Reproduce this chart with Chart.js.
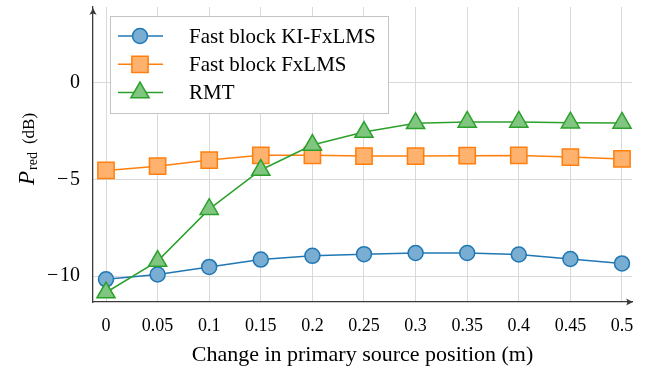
<!DOCTYPE html>
<html>
<head>
<meta charset="utf-8">
<script src="https://cdn.jsdelivr.net/npm/chart.js@4.4.0/dist/chart.umd.min.js"></script>
<style>
  html, body { margin: 0; padding: 0; background: #fff; }
  canvas { display: block; }
</style>
</head>
<body>
<canvas id="chart" width="649" height="370"></canvas>
<script>
// change in primary source position (m)
const positions = [0, 0.05, 0.1, 0.15, 0.2, 0.25, 0.3, 0.35, 0.4, 0.45, 0.5];
// P_red (dB) per method
const kiFxlms = [-10.16, -9.91, -9.52, -9.14, -8.95, -8.86, -8.80, -8.80, -8.88, -9.11, -9.34];
const fxlms = [-4.54, -4.32, -4.01, -3.76, -3.76, -3.80, -3.80, -3.78, -3.77, -3.85, -3.95];
const rmt = [-10.84, -9.22, -6.54, -4.52, -3.23, -2.56, -2.11, -2.04, -2.04, -2.08, -2.09];

const seriesNames = ['Fast block KI-FxLMS', 'Fast block FxLMS', 'RMT'];
const xTickValues = [0, 0.05, 0.1, 0.15, 0.2, 0.25, 0.3, 0.35, 0.4, 0.45, 0.5];
const xTickLabels = ['0', '0.05', '0.1', '0.15', '0.2', '0.25', '0.3', '0.35', '0.4', '0.45', '0.5'];
const yTickValues = [-10, -5, 0];
const yTickLabels = ['\u2212\u200A10', '\u2212\u200A5', '0'];

const SERIF = '"Liberation Serif", "Times New Roman", serif';
const AXIS = '#3a3a3a';
const GRID = '#d9d9d9';

function pts(values) {
    return positions.map((x, i) => ({ x: x, y: values[i] }));
}

function drawMarker(ctx, style, x, y, r) {
    if (Chart.helpers && Chart.helpers.drawPoint) {
        Chart.helpers.drawPoint(ctx, { pointStyle: style, radius: r, rotation: 0, borderWidth: 1.5 }, x, y);
        return;
    }
    ctx.beginPath();
    ctx.arc(x, y, r, 0, Math.PI * 2);
    ctx.fill();
    ctx.stroke();
}

function arrowHead(ctx, x, y, dir) {
    // small latex-ish arrow tip
    ctx.save();
    ctx.translate(x, y);
    if (dir === 'up') ctx.rotate(-Math.PI / 2);
    ctx.beginPath();
    ctx.moveTo(0, 0);
    ctx.lineTo(-7, -3.6);
    ctx.quadraticCurveTo(-4.5, 0, -7, 3.6);
    ctx.closePath();
    ctx.fill();
    ctx.restore();
}

const decorPlugin = {
    id: 'decor',
    afterDraw(chart) {
        const { ctx, chartArea: a } = chart;
        ctx.save();

        // axis arrow tips
        ctx.fillStyle = AXIS;
        arrowHead(ctx, a.right + 1, a.bottom, 'right');
        arrowHead(ctx, a.left, a.top + 1, 'up');

        // y title: P_red (dB)
        ctx.save();
        ctx.fillStyle = '#000';
        ctx.translate(34, 149);
        ctx.rotate(-Math.PI / 2);
        ctx.textBaseline = 'alphabetic';
        ctx.textAlign = 'left';
        ctx.font = 'italic 23px ' + SERIF;
        const wP = ctx.measureText('P').width + 1;
        ctx.font = '14px ' + SERIF;
        const wSub = ctx.measureText('red').width + 8;
        ctx.font = '17px ' + SERIF;
        const wRest = ctx.measureText('(dB)').width;
        const x0 = -(wP + wSub + wRest) / 2;
        ctx.font = 'italic 23px ' + SERIF;
        ctx.fillText('P', x0, 0);
        ctx.font = '14px ' + SERIF;
        ctx.fillText('red', x0 + wP, 3);
        ctx.font = '17px ' + SERIF;
        ctx.fillText('(dB)', x0 + wP + wSub, 0);
        ctx.restore();

        // legend box
        const bx = a.left + 17, by = a.top + 9, bw = 278, bh = 97;
        ctx.fillStyle = '#fff';
        ctx.fillRect(bx, by, bw, bh);
        ctx.strokeStyle = '#c4c4c4';
        ctx.lineWidth = 1;
        ctx.strokeRect(bx + 0.5, by + 0.5, bw, bh);

        chart.data.datasets.forEach((ds, i) => {
            const y = by + 20 + i * 28.3;
            ctx.strokeStyle = ds.borderColor;
            ctx.lineWidth = 1.5;
            ctx.beginPath();
            ctx.moveTo(bx + 8, y);
            ctx.lineTo(bx + 53, y);
            ctx.stroke();
            ctx.fillStyle = ds.pointBackgroundColor;
            ctx.strokeStyle = ds.borderColor;
            drawMarker(ctx, ds.pointStyle, bx + 30, y, ds.pointRadius);
            ctx.fillStyle = '#000';
            ctx.font = '21px ' + SERIF;
            ctx.textBaseline = 'middle';
            ctx.textAlign = 'left';
            ctx.fillText(seriesNames[i], bx + 79, y + 1);
        });

        ctx.restore();
    }
};

const chart = new Chart(document.getElementById('chart'), {
    type: 'line',
    data: {
        datasets: [{
            label: seriesNames[0],
            data: pts(kiFxlms),
            borderColor: '#1f77b4',
            backgroundColor: '#79add2',
            pointBackgroundColor: '#79add2',
            pointBorderColor: '#1f77b4',
            pointStyle: 'circle',
            pointRadius: 7.5,
            order: 2
        }, {
            label: seriesNames[1],
            data: pts(fxlms),
            borderColor: '#ff7f0e',
            backgroundColor: '#ffb26e',
            pointBackgroundColor: '#ffb26e',
            pointBorderColor: '#ff7f0e',
            pointStyle: 'rect',
            pointRadius: 11.5,
            order: 1
        }, {
            label: seriesNames[2],
            data: pts(rmt),
            borderColor: '#2ca02c',
            backgroundColor: '#80c680',
            pointBackgroundColor: '#80c680',
            pointBorderColor: '#2ca02c',
            pointStyle: 'triangle',
            pointRadius: 10.5,
            order: 0
        }].map(ds => Object.assign({
            borderWidth: 1.5,
            pointBorderWidth: 1.5,
            tension: 0,
            fill: false,
            clip: false
        }, ds))
    },
    options: {
        responsive: false,
        animation: false,
        layout: { autoPadding: false, padding: { left: 0, top: 7, right: 17, bottom: 0 } },
        plugins: {
            legend: { display: false },
            tooltip: { enabled: false }
        },
        scales: {
            x: {
                type: 'linear',
                min: -0.0126,
                max: 0.5097,
                afterFit: s => { s.height = 68; s.paddingLeft = 0; s.paddingRight = 0; },
                afterBuildTicks: s => { s.ticks = xTickValues.map(v => ({ value: v })); },
                grid: { color: GRID, lineWidth: 1, drawTicks: false },
                border: { display: true, color: AXIS, width: 1.3 },
                ticks: {
                    padding: 13,
                    color: '#000',
                    font: { family: SERIF, size: 18 },
                    maxRotation: 0,
                    autoSkip: false,
                    callback: (v, i) => xTickLabels[i]
                },
                title: {
                    display: true,
                    text: 'Change in primary source position (m)',
                    color: '#000',
                    font: { family: SERIF, size: 22 },
                    padding: { top: 0, bottom: 2 }
                }
            },
            y: {
                min: -11.33,
                max: 3.89,
                afterFit: s => { s.width = 93; s.paddingTop = 0; s.paddingBottom = 0; },
                afterBuildTicks: s => { s.ticks = yTickValues.map(v => ({ value: v })); },
                grid: { color: GRID, lineWidth: 1, drawTicks: false },
                border: { display: true, color: AXIS, width: 1.3 },
                ticks: {
                    padding: 13,
                    color: '#000',
                    font: { family: SERIF, size: 20 },
                    callback: (v, i) => yTickLabels[i]
                }
            }
        }
    },
    plugins: [decorPlugin]
});
</script>
</body>
</html>
